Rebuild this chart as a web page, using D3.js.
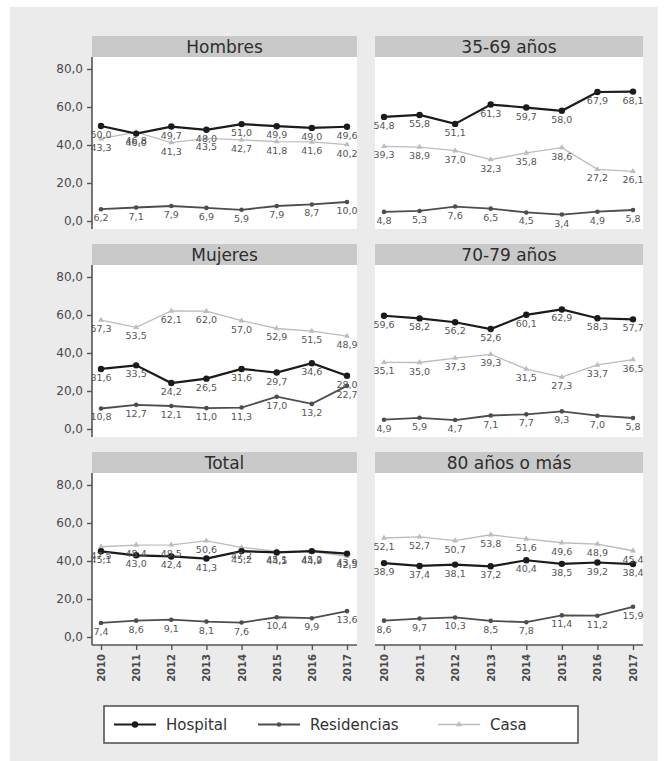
<!DOCTYPE html>
<html>
<head>
<meta charset="utf-8">
<script src="https://cdn.jsdelivr.net/npm/d3@7"></script>
<style>
  body { margin: 0; background: #fff; }
  text { font-family: "DejaVu Sans", Arial, sans-serif; }
</style>
</head>
<body>
<div id="chart"></div>
<script>
////////////////////// Data //////////////////////
var years = [2010, 2011, 2012, 2013, 2014, 2015, 2016, 2017];
var panelNames = ["Hombres", "35-69 años", "Mujeres", "70-79 años", "Total", "80 años o más"];
var seriesNames = ["Hospital", "Residencias", "Casa"];
var yTicks = [0, 20, 40, 60, 80];

// one row per panel, in panelNames order
var hospital = [
  [50.0, 46.0, 49.7, 48.0, 51.0, 49.9, 49.0, 49.6],
  [54.8, 55.8, 51.1, 61.3, 59.7, 58.0, 67.9, 68.1],
  [31.6, 33.5, 24.2, 26.5, 31.6, 29.7, 34.6, 28.0],
  [59.6, 58.2, 56.2, 52.6, 60.1, 62.9, 58.3, 57.7],
  [45.1, 43.0, 42.4, 41.3, 45.2, 44.5, 45.2, 43.9],
  [38.9, 37.4, 38.1, 37.2, 40.4, 38.5, 39.2, 38.4]
];
var residencias = [
  [6.2, 7.1, 7.9, 6.9, 5.9, 7.9, 8.7, 10.0],
  [4.8, 5.3, 7.6, 6.5, 4.5, 3.4, 4.9, 5.8],
  [10.8, 12.7, 12.1, 11.0, 11.3, 17.0, 13.2, 22.7],
  [4.9, 5.9, 4.7, 7.1, 7.7, 9.3, 7.0, 5.8],
  [7.4, 8.6, 9.1, 8.1, 7.6, 10.4, 9.9, 13.6],
  [8.6, 9.7, 10.3, 8.5, 7.8, 11.4, 11.2, 15.9]
];
var casa = [
  [43.3, 46.8, 41.3, 43.5, 42.7, 41.8, 41.6, 40.2],
  [39.3, 38.9, 37.0, 32.3, 35.8, 38.6, 27.2, 26.1],
  [57.3, 53.5, 62.1, 62.0, 57.0, 52.9, 51.5, 48.9],
  [35.1, 35.0, 37.3, 39.3, 31.5, 27.3, 33.7, 36.5],
  [47.5, 48.4, 48.5, 50.6, 47.2, 45.1, 44.9, 42.5],
  [52.1, 52.7, 50.7, 53.8, 51.6, 49.6, 48.9, 45.4]
];

////////////////////// Setup //////////////////////
var W = 668, H = 761;
var colX = [92, 375], colW = [265, 268];
var rowTop = [36, 244, 452];   // top of the grey header band
var headH = 21, plotH = 172;

var style = {
  Hospital:    {color: "#1b1b1b", width: 2.2, r: 3.2, sym: d3.symbolCircle},
  Residencias: {color: "#4d4d4d", width: 1.8, r: 2.3, sym: d3.symbolCircle},
  Casa:        {color: "#bcbcbc", width: 1.3, r: 2.2, sym: d3.symbolTriangle}
};

var fmt = function(v) { return d3.format(".1f")(v).replace(".", ","); };

var svg = d3.select("#chart").append("svg")
  .attr("width", W).attr("height", H);

svg.append("rect").attr("x", 10).attr("y", 7)
  .attr("width", 648).attr("height", H - 7)
  .attr("fill", "#ebebeb");

panelNames.forEach(function(name, p) {
  var col = p % 2, row = Math.floor(p / 2);
  var x0 = colX[col], w = colW[col];
  var top = rowTop[row] + headH, bottom = top + plotH;

  var x = d3.scalePoint().domain(years).range([x0 + 9, x0 + w - 10]);
  var y = d3.scaleLinear().domain([0, 80]).range([bottom - 8, top + 12]);

  var g = svg.append("g").attr("class", "panel");

  // header band + title
  g.append("rect").attr("x", x0).attr("y", rowTop[row])
    .attr("width", w).attr("height", headH).attr("fill", "#c9c9c9");
  g.append("text").attr("x", x0 + w / 2).attr("y", rowTop[row] + 16.5)
    .attr("text-anchor", "middle").attr("font-size", "17px")
    .attr("fill", "#2e2e2e").text(name);

  // plot area
  g.append("rect").attr("x", x0).attr("y", top)
    .attr("width", w).attr("height", plotH).attr("fill", "#fff");

  // y axis only on the left column
  if (col === 0) {
    var ya = g.append("g").attr("transform", "translate(" + x0 + ",0)")
      .call(d3.axisLeft(y).tickValues(yTicks).tickSize(5).tickPadding(4).tickFormat(fmt));
    ya.select(".domain").attr("d", "M0," + top + "V" + bottom)
      .attr("stroke", "#555").attr("stroke-width", 1.6);
    ya.selectAll(".tick line").attr("stroke", "#555").attr("stroke-width", 1.4);
    ya.selectAll(".tick text").attr("font-size", "12px").attr("fill", "#4a4a4a")
      .attr("font-family", "DejaVu Sans, Arial, sans-serif");
  }

  // x axis only on the bottom row
  if (row === 2) {
    var xa = g.append("g").attr("transform", "translate(0," + bottom + ")")
      .call(d3.axisBottom(x).tickSize(5).tickPadding(4));
    xa.select(".domain").attr("d", "M" + x0 + ",0H" + (x0 + w))
      .attr("stroke", "#555").attr("stroke-width", 1.6);
    xa.selectAll(".tick line").attr("stroke", "#555").attr("stroke-width", 1.4);
    xa.selectAll(".tick text")
      .attr("font-size", "10px").attr("font-weight", "bold").attr("fill", "#4a4a4a")
      .attr("font-family", "DejaVu Sans, Arial, sans-serif")
      .attr("text-anchor", "end").attr("dy", "0.35em")
      .attr("transform", "translate(0,9) rotate(-90)").attr("x", 0).attr("y", 0);
  }

  // series, lightest first
  var sets = [["Casa", casa[p]], ["Residencias", residencias[p]], ["Hospital", hospital[p]]];
  var line = d3.line().x(function(d, i) { return x(years[i]); }).y(function(d) { return y(d); });

  sets.forEach(function(s) {
    var st = style[s[0]];
    g.append("path").datum(s[1]).attr("d", line)
      .attr("fill", "none").attr("stroke", st.color).attr("stroke-width", st.width);
    g.selectAll(null).data(s[1]).enter().append("path")
      .attr("transform", function(d, i) { return "translate(" + x(years[i]) + "," + y(d) + ")"; })
      .attr("d", d3.symbol().type(st.sym).size(Math.PI * st.r * st.r))
      .attr("fill", st.color);
  });

  sets.forEach(function(s) {
    g.selectAll(null).data(s[1]).enter().append("text")
      .attr("x", function(d, i) { return x(years[i]); })
      .attr("y", function(d) { return y(d) + 12; })
      .attr("text-anchor", "middle").attr("font-size", "9.5px")
      .attr("fill", "#555").text(fmt);
  });
});

////////////////////// Legend //////////////////////
var leg = svg.append("g").attr("class", "legend");
leg.append("rect").attr("x", 104).attr("y", 706).attr("width", 474).attr("height", 37)
  .attr("fill", "#fff").attr("stroke", "#555").attr("stroke-width", 1.6);

var legX = [114, 258, 438];
seriesNames.forEach(function(n, i) {
  var st = style[n];
  var cy = 724.5;
  leg.append("line").attr("x1", legX[i]).attr("x2", legX[i] + 42)
    .attr("y1", cy).attr("y2", cy)
    .attr("stroke", st.color).attr("stroke-width", st.width);
  leg.append("path").attr("transform", "translate(" + (legX[i] + 21) + "," + cy + ")")
    .attr("d", d3.symbol().type(st.sym).size(Math.PI * st.r * st.r))
    .attr("fill", st.color);
  leg.append("text").attr("x", legX[i] + 52).attr("y", cy + 5.5)
    .attr("font-size", "15px").attr("fill", "#333").text(n);
});
</script>
</body>
</html>
